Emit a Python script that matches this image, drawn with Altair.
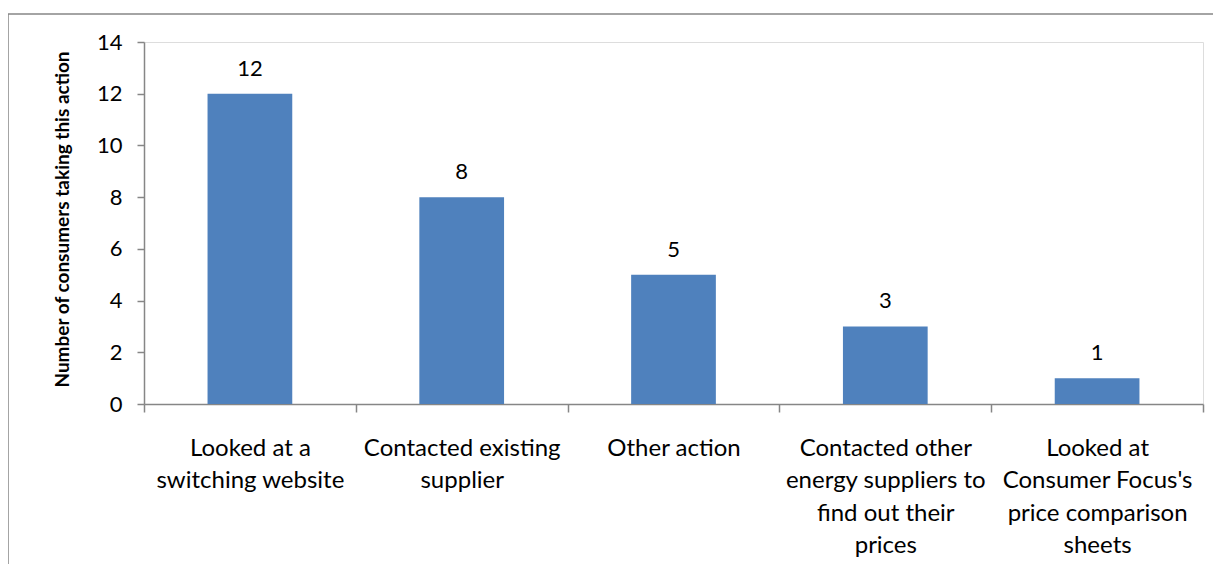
import altair as alt
import pandas as pd

categories = [
    "Looked at a|switching website",
    "Contacted existing|supplier",
    "Other action",
    "Contacted other|energy suppliers to|find out their|prices",
    "Looked at|Consumer Focus's|price comparison|sheets",
]
values = [12, 8, 5, 3, 1]
y_ticks = [0, 2, 4, 6, 8, 10, 12, 14]

df = pd.DataFrame({"action": categories, "count": values})

FONT = "Lato"
GRAY = "#868686"

x_enc = alt.X(
    "action:N",
    sort=categories,
    scale=alt.Scale(paddingInner=0, paddingOuter=0),
    axis=alt.Axis(
        title=None,
        labelAngle=0,
        labelExpr="split(datum.label, '|')",
        labelBaseline="top",
        labelPadding=24,
        labelLineHeight=32.5,
        labelFontSize=24,
        labelFont=FONT,
        labelColor="#000000",
        tickBand="extent",
        tickSize=8,
        tickColor=GRAY,
        tickWidth=1.5,
        domainColor=GRAY,
        domainWidth=1.5,
        labelLimit=300,
    ),
)

y_enc = alt.Y(
    "count:Q",
    scale=alt.Scale(domain=[0, 14], nice=False),
    axis=alt.Axis(
        values=y_ticks,
        title="Number of consumers taking this action",
        titleFont=FONT,
        titleFontSize=19,
        titleFontWeight="bold",
        titleColor="#000000",
        titleX=-82,
        titleY=177,
        titleAngle=-90,
        titleBaseline="middle",
        titleAlign="center",
        labelFont=FONT,
        labelFontSize=22,
        labelColor="#000000",
        labelPadding=15,
        tickSize=7,
        tickColor=GRAY,
        tickWidth=1.5,
        domainColor=GRAY,
        domainWidth=1.5,
        grid=False,
    ),
)

bars = alt.Chart(df).mark_bar(color="#4F81BD", width={"band": 0.4}).encode(
    x=x_enc, y=y_enc
)

labels = alt.Chart(df).mark_text(
    font=FONT, fontSize=22, color="#000000", baseline="alphabetic", dy=-18
).encode(
    x=alt.X("action:N", sort=categories),
    y=alt.Y("count:Q"),
    text=alt.Text("count:Q"),
)

frame = alt.Chart(pd.DataFrame({"f": [0]})).mark_rect(
    fill=None, stroke=GRAY, strokeWidth=1.5
).encode(
    x=alt.value(-136), x2=alt.value(1200), y=alt.value(-28), y2=alt.value(600)
)

chart = alt.layer(frame, bars, labels).properties(
    width=1059,
    height=362,
    autosize=alt.AutoSizeParams(type="none"),
    padding={"left": 136, "top": 34, "right": 10, "bottom": 160},
).configure_view(stroke=None).configure(background="white")

chart.save("out.html", embed_options={"renderer": "svg", "actions": False})
